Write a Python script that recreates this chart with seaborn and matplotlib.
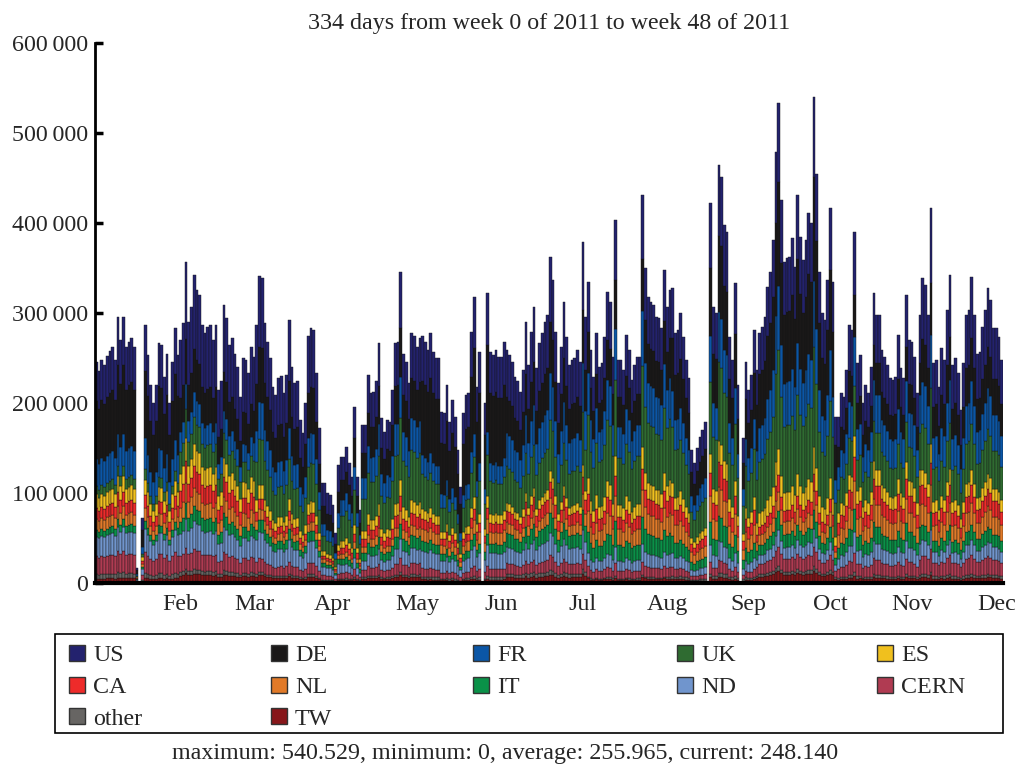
import numpy as np
import pandas as pd
import matplotlib
matplotlib.use("Agg")
import matplotlib.pyplot as plt
from matplotlib.patches import Patch, Rectangle
from matplotlib.ticker import FuncFormatter
import seaborn as sns

# Countries, top of the stack first (same order as the legend)
countries = ["US", "DE", "FR", "UK", "ES", "CA", "NL", "IT", "ND", "CERN", "other", "TW"]
colors = ["#23226e", "#1a1818", "#0b56a6", "#2f6b31", "#f0c01e", "#ee2b2a",
          "#e17a29", "#0a9148", "#7095cd", "#b03b52", "#676563", "#87161a"]

tick_labels = ["Feb", "Mar", "Apr", "May", "Jun", "Jul", "Aug", "Sep", "Oct", "Nov", "Dec"]
tick_days = [31, 58, 87, 118, 149, 179, 210, 240, 270, 300, 331]

# Daily totals (thousands), one list per month
jan = [246, 236, 248, 242, 252, 258, 262, 248, 296, 270, 296, 262, 268, 272, 262, 17, 0, 72, 287,
       253, 220, 200, 220, 267, 264, 229, 255, 200, 246, 283, 253]
feb = [270, 289, 357, 290, 307, 342, 326, 320, 287, 278, 284, 287, 270, 287, 214, 225, 309, 294,
       264, 272, 255, 240, 207, 250, 248, 233, 262, 251]
mar = [287, 341, 339, 289, 268, 250, 218, 209, 228, 230, 211, 231, 292, 240, 222, 225, 181, 167,
       200, 274, 283, 281, 233, 172, 111, 111, 100, 98, 87, 56, 131]
apr = [140, 140, 151, 133, 118, 196, 118, 81, 176, 176, 231, 211, 212, 225, 267, 183, 168, 181,
       179, 214, 267, 268, 346, 255, 246, 222, 278, 274, 262, 272]
may = [274, 268, 259, 278, 257, 250, 250, 190, 189, 220, 179, 203, 184, 148, 107, 189, 209, 211,
       279, 318, 218, 257, 0, 200, 322, 257, 253, 259, 251, 251, 268]
jun = [259, 253, 246, 229, 225, 212, 237, 290, 242, 279, 307, 239, 267, 278, 290, 298, 362, 337,
       279, 222, 262, 312, 273, 242, 248, 250, 259, 246, 379, 296]
jul = [334, 259, 229, 278, 240, 244, 273, 323, 312, 251, 403, 248, 248, 237, 276, 259, 226, 242,
       251, 251, 431, 350, 318, 312, 309, 296, 294, 283, 348, 307, 326]
aug = [328, 278, 281, 300, 273, 248, 228, 148, 133, 150, 162, 170, 179, 0, 422, 307, 300, 464,
       451, 398, 390, 273, 248, 333, 220, 0, 161, 246, 214, 231, 281]
sep = [237, 278, 284, 296, 329, 346, 381, 479, 533, 426, 357, 361, 362, 383, 351, 431, 384, 359,
       381, 411, 400, 540.529, 455, 346, 300, 292, 337, 417, 334, 184]
oct_ = [184, 211, 207, 237, 287, 281, 390, 244, 253, 200, 220, 211, 240, 322, 298, 298, 259, 251,
        242, 228, 226, 229, 276, 239, 228, 320, 270, 268, 251, 211, 298]
nov = [339, 331, 298, 417, 244, 248, 218, 261, 248, 303, 342, 242, 250, 233, 192, 244, 298, 303,
       340, 298, 255, 257, 284, 303, 328, 314, 283, 283, 273, 248.140]

# Share of each country per month (percent, Jan..Nov)
us    = [18, 24, 23, 18, 18, 20, 16.5, 17, 16.5, 18, 20]
de    = [26, 14, 18, 16, 30, 15.5, 13.5, 18, 21.5, 12, 14]
fr    = [12, 8, 12, 13, 8, 14.5, 14, 12, 13.5, 14, 14]
uk    = [4, 9, 15, 20, 14, 15.5, 21, 19, 20.5, 14, 15]
es    = [6, 7, 4.5, 5, 4, 3.5, 5.5, 5, 5.5, 6, 5]
ca    = [5, 7, 3.5, 5, 4, 5, 5.5, 6, 3.5, 7, 6]
nl    = [5, 6, 3.5, 4, 5, 4.5, 7, 7, 4, 8, 7]
it    = [3, 5, 4, 5, 4, 6, 7, 6, 4, 6.5, 5]
nd    = [9, 9, 8.5, 6, 7, 7, 4.5, 4.5, 3.5, 6, 5]
cern  = [8, 6.5, 4.5, 4.5, 3.5, 4.5, 3.5, 3, 4, 5.5, 6]
other = [2, 1.5, 1, 1, 1, 1.5, 0.5, 1, 1, 1, 1]
tw    = [2, 3, 2.5, 2.5, 1.5, 2.5, 1.5, 1.5, 2.5, 2, 2]

totals = [jan, feb, mar, apr, may, jun, jul, aug, sep, oct_, nov]
shares = [us, de, fr, uk, es, ca, nl, it, nd, cern, other, tw]

rows = []
day = 0
for m, month in enumerate(totals):
    for t in month:
        for c, s in zip(countries, shares):
            rows.append((day, c, t * 1000 * s[m] / 100))
        day += 1
df = pd.DataFrame(rows, columns=["day", "country", "jobs"])

sns.set_style("ticks")
plt.rcParams["font.family"] = ["Liberation Serif", "DejaVu Serif"]
fs = 17.3

fig = plt.figure(figsize=(10.2, 7.76), dpi=100)
ax = fig.add_axes([95 / 1020, 1 - 583 / 776, 908 / 1020, 540 / 776])

sns.histplot(data=df, x="day", weights="jobs", hue="country", hue_order=countries,
             palette=colors, multiple="stack", discrete=True, shrink=1, alpha=1,
             edgecolor="#151515", linewidth=0.3, legend=False, ax=ax)

ax.set_xlim(-0.5, day - 0.5)
ax.set_ylim(0, 600000)
ax.set_yticks(np.arange(0, 600001, 100000))
ax.yaxis.set_major_formatter(FuncFormatter(lambda v, p: f"{v:,.0f}".replace(",", "\u2009")))
ax.set_xticks(tick_days)
ax.set_xticklabels(tick_labels)
ax.set_xlabel("")
ax.set_ylabel("")
ax.tick_params(axis="y", direction="in", length=6, width=2.5, labelsize=fs, pad=5, color="black")
ax.tick_params(axis="x", length=0, labelsize=fs, pad=8)
sns.despine(ax=ax)
ax.spines["left"].set_linewidth(2)
ax.spines["bottom"].set_linewidth(3)
ax.spines["left"].set_color("black")
ax.spines["bottom"].set_color("black")

fig.text(549 / 1020, 1 - 23 / 776, "334 days from week 0 of 2011 to week 48 of 2011",
         ha="center", va="center", fontsize=fs)

# legend: five fixed-pitch columns inside one framed box
fig.add_artist(Rectangle((55 / 1020, 1 - 733 / 776), 948 / 1020, 99 / 776,
                         transform=fig.transFigure, fill=False, edgecolor="black", linewidth=1.2))
col_x = [69, 271, 473, 677, 877]
for k, x in enumerate(col_x):
    idx = list(range(k, len(countries), 5))
    handles = [Patch(facecolor=colors[i], edgecolor="#333333", linewidth=1) for i in idx]
    labels = [countries[i] for i in idx]
    fig.legend(handles, labels, loc="upper left", bbox_to_anchor=(x / 1020, 1 - 645 / 776),
               borderaxespad=0, fontsize=fs, frameon=False, borderpad=0,
               handlelength=0.65, handleheight=0.65, handletextpad=0.35, labelspacing=0.42)

fig.text(505 / 1020, 1 - 754 / 776,
         "maximum: 540.529, minimum: 0, average: 255.965, current: 248.140",
         ha="center", va="center", fontsize=fs)

fig.savefig("out.png", dpi=100)
